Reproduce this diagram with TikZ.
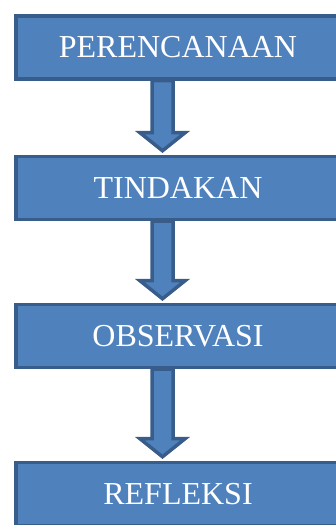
\documentclass[tikz,border=0pt]{standalone}
\usepackage{fontspec}
\setmainfont{Liberation Serif}
\usetikzlibrary{calc,positioning}
\definecolor{stagefill}{RGB}{79,129,189}
\definecolor{stageline}{RGB}{56,93,138}
\newcommand{\fatarrow}[2]{%
  \draw[fatarr] let \p1=(#1.south), \p2=(#2.north) in
    (\x1-26pt,\y1) -- (\x1-5pt,\y1) -- (\x1-5pt,\y2+22pt) -- (\x1+7pt,\y2+22pt)
    -- (\x1-15.5pt,\y2+4pt) -- (\x1-38pt,\y2+22pt) -- (\x1-26pt,\y2+22pt) -- cycle;}
\tikzset{
  stagebox/.style={rectangle, fill=stagefill, draw=stageline, line width=3.5pt,
      minimum width=324pt, minimum height=63pt, inner sep=0pt,
      text=white, font=\fontsize{32}{38}\selectfont},
  fatarr/.style={fill=stagefill, draw=stageline, line width=3.5pt, miter limit=4},
}
\begin{document}
\begin{tikzpicture}[x=1pt,y=1pt]
\useasboundingbox (0,0) rectangle (335,525);
\node[stagebox] (plan) at (178,477.5) {PERENCANAAN};
\node[stagebox] (act) at (178,337) {TINDAKAN};
\node[stagebox] (observe) at (178,189) {OBSERVASI};
\node[stagebox] (reflect) at (178,31) {REFLEKSI};
\fatarrow{plan}{act}
\fatarrow{act}{observe}
\fatarrow{observe}{reflect}
\end{tikzpicture}
\end{document}
